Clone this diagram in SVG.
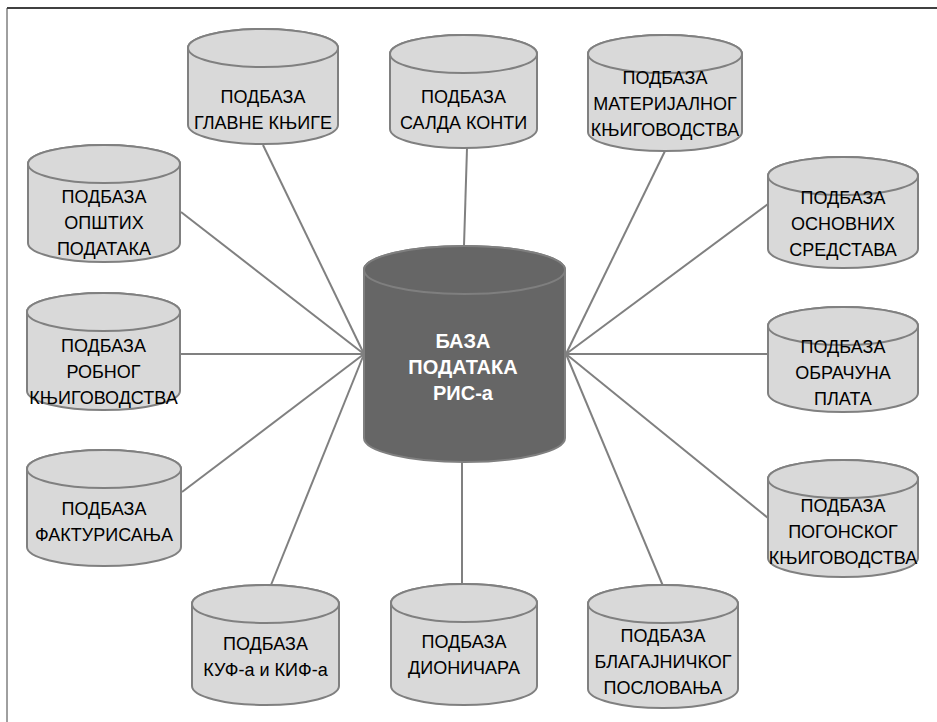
<svg xmlns="http://www.w3.org/2000/svg" width="937" height="722" viewBox="0 0 937 722">
<style>
.cyl{fill:#d9d9d9;stroke:#808080;stroke-width:2}
.main{fill:#666666;stroke:#7f7f7f;stroke-width:2}
.t{font-family:"Liberation Sans",Arial,sans-serif;font-size:18px;fill:#000;text-anchor:middle}
.tm{font-family:"Liberation Sans",Arial,sans-serif;font-size:20px;font-weight:bold;fill:#fff;text-anchor:middle}
.c line{stroke:#808080;stroke-width:2}
</style>
<rect width="937" height="722" fill="#fff"/>
<g id="frame">
<line x1="7" y1="8" x2="937" y2="8" stroke="#404040" stroke-width="2"/>
<line x1="7" y1="8" x2="7" y2="722" stroke="#404040" stroke-width="1"/>
</g>
<g id="connectors" class="c">
<line x1="263" y1="145" x2="364" y2="354"/>
<line x1="467" y1="148" x2="464" y2="246"/>
<line x1="665" y1="151" x2="566" y2="354"/>
<line x1="181" y1="212" x2="364" y2="354"/>
<line x1="181" y1="354" x2="364" y2="354"/>
<line x1="182" y1="492" x2="364" y2="354"/>
<line x1="271" y1="585" x2="364" y2="354"/>
<line x1="462" y1="462" x2="462" y2="584"/>
<line x1="663" y1="586" x2="566" y2="354"/>
<line x1="768" y1="518" x2="566" y2="354"/>
<line x1="768" y1="354" x2="566" y2="354"/>
<line x1="768" y1="204" x2="566" y2="354"/>
</g>
<g id="central">
<path class="main" d="M364,270 A100.5,24 0 0 1 565,270 V438 A100.5,24 0 0 1 364,438 Z"/>
<ellipse class="main" cx="464.5" cy="270" rx="100.5" ry="24"/>
<text class="tm" x="463" y="348">БАЗА</text>
<text class="tm" x="463" y="374">ПОДАТАКА</text>
<text class="tm" x="463" y="400">РИС-а</text>
</g>
<g id="n-glavne">
<path class="cyl" d="M188,48 A75,19 0 0 1 338,48 V125 A75,19 0 0 1 188,125 Z"/>
<ellipse class="cyl" cx="263" cy="48" rx="75" ry="19"/>
<text class="t" x="263" y="103">ПОДБАЗА</text>
<text class="t" x="263" y="129">ГЛАВНЕ КЊИГЕ</text>
</g>
<g id="n-salda">
<path class="cyl" d="M390,54 A73.5,19 0 0 1 537,54 V129 A73.5,19 0 0 1 390,129 Z"/>
<ellipse class="cyl" cx="463.5" cy="54" rx="73.5" ry="19"/>
<text class="t" x="463.5" y="103">ПОДБАЗА</text>
<text class="t" x="463.5" y="129">САЛДА КОНТИ</text>
</g>
<g id="n-materijalnog">
<path class="cyl" d="M588,54 A77,19 0 0 1 742,54 V132 A77,19 0 0 1 588,132 Z"/>
<ellipse class="cyl" cx="665" cy="54" rx="77" ry="19"/>
<text class="t" x="665" y="84">ПОДБАЗА</text>
<text class="t" x="665" y="110">МАТЕРИЈАЛНОГ</text>
<text class="t" x="665" y="136">КЊИГОВОДСТВА</text>
</g>
<g id="n-opstih">
<path class="cyl" d="M28,164 A76,19 0 0 1 180,164 V243 A76,19 0 0 1 28,243 Z"/>
<ellipse class="cyl" cx="104" cy="164" rx="76" ry="19"/>
<text class="t" x="104" y="203">ПОДБАЗА</text>
<text class="t" x="104" y="229">ОПШТИХ</text>
<text class="t" x="104" y="255">ПОДАТАКА</text>
</g>
<g id="n-osnovnih">
<path class="cyl" d="M768,176 A75,19 0 0 1 918,176 V249 A75,19 0 0 1 768,249 Z"/>
<ellipse class="cyl" cx="843" cy="176" rx="75" ry="19"/>
<text class="t" x="843" y="204">ПОДБАЗА</text>
<text class="t" x="843" y="230">ОСНОВНИХ</text>
<text class="t" x="843" y="256">СРЕДСТАВА</text>
</g>
<g id="n-robnog">
<path class="cyl" d="M27,312 A76.5,19 0 0 1 180,312 V391 A76.5,19 0 0 1 27,391 Z"/>
<ellipse class="cyl" cx="103.5" cy="312" rx="76.5" ry="19"/>
<text class="t" x="103.5" y="352">ПОДБАЗА</text>
<text class="t" x="103.5" y="378">РОБНОГ</text>
<text class="t" x="103.5" y="404">КЊИГОВОДСТВА</text>
</g>
<g id="n-obracuna">
<path class="cyl" d="M768,326 A75,19 0 0 1 918,326 V393 A75,19 0 0 1 768,393 Z"/>
<ellipse class="cyl" cx="843" cy="326" rx="75" ry="19"/>
<text class="t" x="843" y="353">ПОДБАЗА</text>
<text class="t" x="843" y="379">ОБРАЧУНА</text>
<text class="t" x="843" y="405">ПЛАТА</text>
</g>
<g id="n-fakturisanja">
<path class="cyl" d="M27,469 A77,19 0 0 1 181,469 V547 A77,19 0 0 1 27,547 Z"/>
<ellipse class="cyl" cx="104" cy="469" rx="77" ry="19"/>
<text class="t" x="104" y="515">ПОДБАЗА</text>
<text class="t" x="104" y="541">ФАКТУРИСАЊА</text>
</g>
<g id="n-pogonskog">
<path class="cyl" d="M768,479 A75,19 0 0 1 918,479 V558 A75,19 0 0 1 768,558 Z"/>
<ellipse class="cyl" cx="843" cy="479" rx="75" ry="19"/>
<text class="t" x="843" y="512">ПОДБАЗА</text>
<text class="t" x="843" y="538">ПОГОНСКОГ</text>
<text class="t" x="843" y="564">КЊИГОВОДСТВА</text>
</g>
<g id="n-kuf">
<path class="cyl" d="M192,604 A73.5,19 0 0 1 339,604 V686 A73.5,19 0 0 1 192,686 Z"/>
<ellipse class="cyl" cx="265.5" cy="604" rx="73.5" ry="19"/>
<text class="t" x="265.5" y="650">ПОДБАЗА</text>
<text class="t" x="265.5" y="676">КУФ-а и КИФ-а</text>
</g>
<g id="n-dionicara">
<path class="cyl" d="M391,603 A73,19 0 0 1 537,603 V686 A73,19 0 0 1 391,686 Z"/>
<ellipse class="cyl" cx="464" cy="603" rx="73" ry="19"/>
<text class="t" x="464" y="648">ПОДБАЗА</text>
<text class="t" x="464" y="674">ДИОНИЧАРА</text>
</g>
<g id="n-blagajnickog">
<path class="cyl" d="M588,604 A75,19 0 0 1 738,604 V689 A75,19 0 0 1 588,689 Z"/>
<ellipse class="cyl" cx="663" cy="604" rx="75" ry="19"/>
<text class="t" x="663" y="642">ПОДБАЗА</text>
<text class="t" x="663" y="668">БЛАГАЈНИЧКОГ</text>
<text class="t" x="663" y="694">ПОСЛОВАЊА</text>
</g>
</svg>
